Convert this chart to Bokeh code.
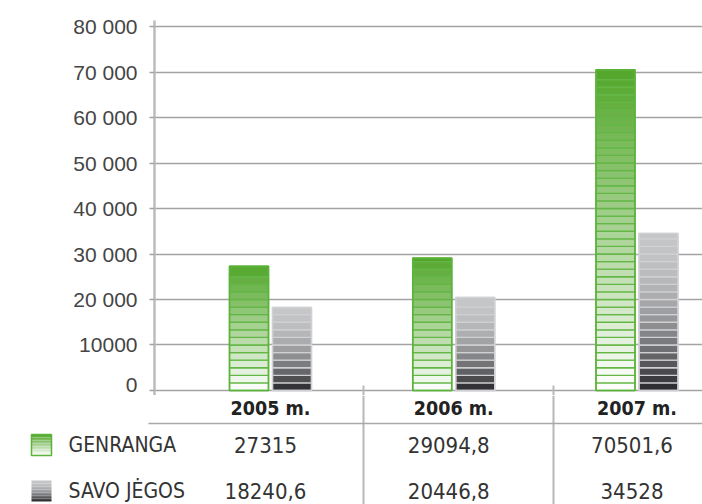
from bokeh.plotting import figure
from bokeh.layouts import column
from bokeh.models import Range1d, FixedTicker
from bokeh.core.properties import value
from bokeh.embed import file_html
from bokeh.resources import INLINE

# ---------------- data ----------------
years = ["2005 m.", "2006 m.", "2007 m."]
series = ["GENRANGA", "SAVO JĖGOS"]
genranga = [27315, 29094.8, 70501.6]
savo_jegos = [18240.6, 20446.8, 34528]
y_ticks = [0, 10000, 20000, 30000, 40000, 50000, 60000, 70000, 80000]
y_tick_labels = ["0", "10000", "20 000", "30 000", "40 000", "50 000", "60 000", "70 000", "80 000"]

# ---------------- layout constants ----------------
W = 702
PX = 183.25            # pixels per category
C0 = 270.0             # x of first category centre
FRAME_L = 154          # x of plot frame left edge
X_START = (FRAME_L - C0) / PX
X_END = (W - C0) / PX
OFF = 21.5 / PX
BW = 39 / PX
BAND = 10000 / 6.0
FONT_COND = value("DejaVu Sans Condensed")


def fmt(v):
    return ("%g" % v).replace(".", ",")


def mix(c1, c2, t):
    return "#%02x%02x%02x" % tuple(int(round(a + (b - a) * t)) for a, b in zip(c1, c2))


WHITE = (255, 255, 255)
GREEN_D = (82, 166, 42)
GRAY_L = (197, 198, 200)
GRAY_D = (38, 38, 42)


def green_col(f):          # f: 0 bottom -> 1 top
    return mix(WHITE, GREEN_D, f)


def gray_col(f):
    g = 1 - f
    return mix(GRAY_L, GRAY_D, g ** 2)


def bands(vals, offset, colfn):
    xs, bots, tops, cols = [], [], [], []
    for i, v in enumerate(vals):
        b = 0.0
        while b < v - 1e-9:
            t = min(b + BAND, v)
            if v - t < BAND * 0.4:
                t = v
            xs.append(i + offset)
            bots.append(b)
            tops.append(t)
            cols.append(colfn((b + t) / 2.0 / v))
            b = t
    return dict(x=xs, bottom=bots, top=tops, color=cols)


# ---------------- chart ----------------
p = figure(width=W, height=395, output_backend="svg", toolbar_location=None,
           x_range=Range1d(X_START, X_END), y_range=Range1d(-1099, 81319),
           x_axis_location=None, min_border_left=FRAME_L, min_border_right=0,
           min_border_top=20, min_border_bottom=0)
p.frame_align = False
p.outline_line_color = None
p.xgrid.visible = False
p.ygrid.ticker = FixedTicker(ticks=y_ticks)
p.ygrid.grid_line_color = "#a3a3a3"
p.ygrid.grid_line_width = 1.5
p.yaxis.ticker = FixedTicker(ticks=y_ticks)
p.yaxis.major_label_overrides = {t: l for t, l in zip(y_ticks, y_tick_labels)}
p.yaxis.major_label_text_font = "Liberation Sans"
p.yaxis.major_label_text_font_size = "21px"
p.yaxis.major_label_text_color = "#454545"
p.yaxis.major_label_standoff = 12
p.yaxis.major_tick_in = 0
p.yaxis.major_tick_out = 5
p.yaxis.major_tick_line_color = "#a3a3a3"
p.yaxis.major_tick_line_width = 1.5
p.yaxis.minor_tick_line_color = None
p.yaxis.axis_line_color = "#bcbcbc"
p.yaxis.axis_line_width = 2.5

gb = bands(genranga, -OFF, green_col)
p.vbar(x=gb["x"], bottom=gb["bottom"], top=gb["top"], width=BW,
       fill_color=gb["color"], line_color="#64b746", line_width=1.3)
p.vbar(x=[i - OFF for i in range(len(years))], top=genranga, bottom=0, width=BW,
       fill_color=None, line_color="#5cb33b", line_width=1.6)

sb = bands(savo_jegos, OFF, gray_col)
p.vbar(x=sb["x"], bottom=sb["bottom"], top=sb["top"], width=BW,
       fill_color=sb["color"], line_color="#cfd0d2", line_width=1.3)
p.vbar(x=[i + OFF for i in range(len(years))], top=savo_jegos, bottom=0, width=BW,
       fill_color=None, line_color="#d0d1d3", line_width=1.4)

SEP = [(363 - C0) / PX, (553 - C0) / PX]
p.segment(x0=SEP, x1=SEP, y0=[-1099] * 2, y1=[1100] * 2, line_color="#b8b8b8", line_width=2)

# ---------------- table ----------------
TH = 109
t = figure(width=W, height=TH, output_backend="svg", toolbar_location=None,
           x_range=Range1d(-C0 / PX, X_END), y_range=Range1d(TH, 0),
           x_axis_location=None, y_axis_location=None,
           min_border=0, min_border_left=0, min_border_right=0,
           min_border_top=0, min_border_bottom=0)
t.frame_align = False
t.outline_line_color = None
t.grid.visible = False

t.segment(x0=SEP, x1=SEP, y0=[0, 0], y1=[TH, TH], line_color="#b8b8b8", line_width=2)
t.segment(x0=[(148 - C0) / PX], x1=[X_END], y0=[28], y1=[28], line_color="#a8a8a8", line_width=1.5)

idx = list(range(len(years)))
t.text(x=idx, y=[13] * 3, text=years, text_font=FONT_COND, text_font_style="bold",
       text_font_size="19.5px", text_color="#222222", text_align="center", text_baseline="middle")

row_y = [49, 95]
for vals, ry in zip([genranga, savo_jegos], row_y):
    t.text(x=[i - 5 / PX for i in idx], y=[ry] * 3, text=[fmt(v) for v in vals],
           text_font=FONT_COND, text_font_size="22px", text_color="#333333",
           text_align="center", text_baseline="middle")

t.text(x=[(68 - C0) / PX] * 2, y=row_y, text=series, text_font=FONT_COND,
       text_font_size="21px", text_color="#333333", text_align="left", text_baseline="middle")

# legend swatches
SW_L, SW_R = (31 - C0) / PX, (51 - C0) / PX
N = 14
for ry, colfn, oc in [(49, green_col, "#5cb33b"), (95, gray_col, None)]:
    top, bot = ry - 10, ry + 11
    h = (bot - top) / N
    tops = [top + k * h for k in range(N)]
    bots = [top + (k + 1) * h for k in range(N)]
    cols = [colfn(1 - (k + 0.5) / N) for k in range(N)]
    t.quad(left=SW_L, right=SW_R, top=tops, bottom=bots, fill_color=cols, line_color=None)
    if oc:
        t.quad(left=[SW_L], right=[SW_R], top=[top], bottom=[bot], fill_color=None,
               line_color=oc, line_width=1.5)

layout = column(p, t, spacing=0)
open("out.html", "w").write(file_html(layout, INLINE))
